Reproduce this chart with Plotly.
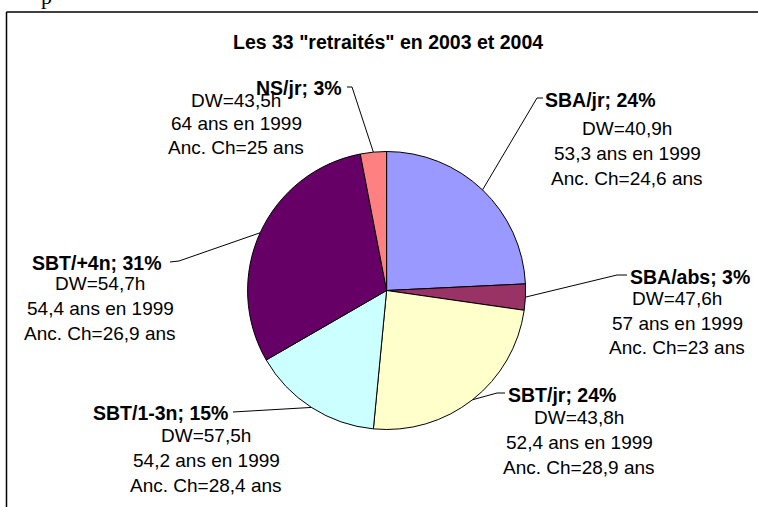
import math
import plotly.graph_objects as go

# ---------------- data ----------------
categories = ["SBA/jr", "SBA/abs", "SBT/jr", "SBT/1-3n", "SBT/+4n", "NS/jr"]
counts = [8, 1, 8, 5, 10, 1]
pct_labels = [24, 3, 24, 15, 31, 3]
dw_hours = ["40,9", "47,6", "43,8", "57,5", "54,7", "43,5"]
age_1999 = ["53,3", "57", "52,4", "54,2", "54,4", "64"]
anc_ch = ["24,6", "23", "28,9", "28,4", "26,9", "25"]
colors = ["#9999FF", "#993366", "#FFFFCC", "#CCFFFF", "#660066", "#FF8080"]
title_text = 'Les 33 "retraités" en 2003 et 2004'

# ---------------- layout constants (pixels) ----------------
W, H = 758, 507
CX, CY, R = 386.6, 290.5, 139.0
FONT = "Liberation Sans, Arial, sans-serif"

# label placement per slice: bold centre, body centre x, body line ys, leader start, elbow
label_pos = {
    "SBA/jr":   dict(bx=600, by=100, tx=627, ty=[129, 153, 178], s=(543, 98), e=(537, 98)),
    "SBA/abs":  dict(bx=690, by=277, tx=677, ty=[298, 323, 347], s=(627, 275), e=(617, 275)),
    "SBT/jr":   dict(bx=562, by=395, tx=579, ty=[417, 442, 467], s=(505, 393), e=(497, 393)),
    "SBT/1-3n": dict(bx=160, by=413, tx=206, ty=[435, 460, 485], s=(233, 412), e=(233, 412)),
    "SBT/+4n":  dict(bx=97, by=263, tx=100, ty=[283, 308, 333], s=(170, 262), e=(179, 261)),
    "NS/jr":    dict(bx=299, by=88, tx=236, ty=[100, 123, 148], s=(347, 87), e=(352, 87)),
}


def px(x):
    return x / W


def py(y):
    return 1 - y / H


fig = go.Figure(go.Pie(
    labels=categories,
    values=counts,
    sort=False,
    direction="clockwise",
    rotation=0,
    marker=dict(colors=colors, line=dict(color="black", width=1)),
    textinfo="none",
    hoverinfo="label+percent",
    showlegend=False,
    domain=dict(x=[px(CX - R), px(CX + R)], y=[py(CY + R), py(CY - R)]),
))

annotations = []
shapes = []

total = sum(counts)
cum = 0
for cat, c, p, dw, age, anc in zip(categories, counts, pct_labels, dw_hours, age_1999, anc_ch):
    mid = (cum + c / 2) / total * 2 * math.pi
    cum += c
    ex = CX + R * math.sin(mid)
    ey = CY - R * math.cos(mid)
    lp = label_pos[cat]
    annotations.append(dict(
        x=px(lp["bx"]), y=py(lp["by"]), xref="paper", yref="paper",
        text=f"<b>{cat}; {p}%</b>", showarrow=False,
        xanchor="center", yanchor="middle",
        font=dict(family=FONT, size=19.5, color="black"),
    ))
    for txt, yy in zip([f"DW={dw}h", f"{age} ans en 1999", f"Anc. Ch={anc} ans"], lp["ty"]):
        annotations.append(dict(
            x=px(lp["tx"]), y=py(yy), xref="paper", yref="paper",
            text=txt, showarrow=False, xanchor="center", yanchor="middle",
            font=dict(family=FONT, size=19, color="black"),
        ))
    (sx, sy), (mx, my) = lp["s"], lp["e"]
    shapes.append(dict(
        type="path", xref="paper", yref="paper",
        path=f"M {px(sx)} {py(sy)} L {px(mx)} {py(my)} L {px(ex)} {py(ey)}",
        line=dict(color="black", width=1),
    ))

# title
annotations.append(dict(
    x=px(388), y=py(42), xref="paper", yref="paper", text=f"<b>{title_text}</b>",
    showarrow=False, xanchor="center", yanchor="middle",
    font=dict(family=FONT, size=19.5, color="black"),
))
# cut-off document text above the frame
annotations.append(dict(
    x=px(46), y=py(-3), xref="paper", yref="paper", text="p",
    showarrow=False, xanchor="center", yanchor="middle",
    font=dict(family="Liberation Serif, Times New Roman, serif", size=22, color="black"),
))

# frame (left and top edges)
shapes.append(dict(type="line", xref="paper", yref="paper",
                   x0=px(6.5), y0=py(12), x1=px(6.5), y1=py(H + 2),
                   line=dict(color="black", width=1.5)))
shapes.append(dict(type="line", xref="paper", yref="paper",
                   x0=px(6.5), y0=py(12), x1=px(W + 2), y1=py(12),
                   line=dict(color="black", width=1.5)))

fig.update_layout(
    width=W, height=H,
    margin=dict(l=0, r=0, t=0, b=0),
    paper_bgcolor="white", plot_bgcolor="white",
    annotations=annotations, shapes=shapes,
)

fig.write_html(
    "out.html",
    config={"displayModeBar": False},
    post_script="document.body.style.margin='0';document.body.style.overflow='hidden';",
)
